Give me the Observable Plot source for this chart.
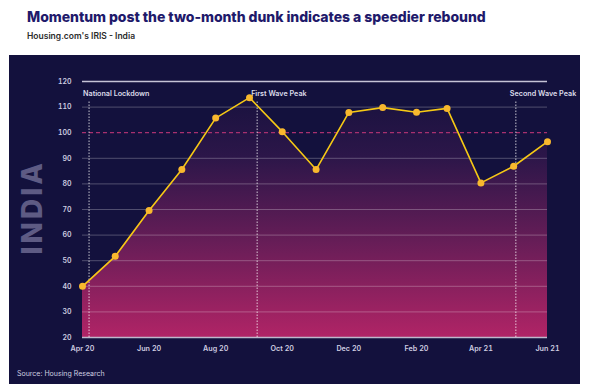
<!DOCTYPE html>
<html><head><meta charset="utf-8">
<script src="https://cdn.jsdelivr.net/npm/d3@7"></script>
<script src="https://cdn.jsdelivr.net/npm/@observablehq/plot@0.6"></script>
<style>
body{margin:0;background:#fff;font-family:Inter,"Open Sans",sans-serif;}
#wrap{position:relative;width:592px;height:390px;overflow:hidden;}
h1{position:absolute;left:27px;top:8px;margin:0;font-size:14px;font-weight:800;color:#1f1a6b;white-space:nowrap;letter-spacing:-0.05px;}
.sub{position:absolute;left:27px;top:31px;font-size:8.5px;font-weight:600;color:#2b2b2b;white-space:nowrap;}
#panel{position:absolute;left:9px;top:55px;width:571px;height:329px;background:#13113d;}
.src{position:absolute;left:8px;bottom:6px;font-size:7px;color:#cfcfe0;white-space:nowrap;}
.india text{letter-spacing:3px;}
</style></head>
<body>
<div id="wrap">
  <h1>Momentum post the two-month dunk indicates a speedier rebound</h1>
  <div class="sub">Housing.com's IRIS - India</div>
  <div id="panel"><div class="src">Source: Housing Research</div></div>
</div>
<script>
const months = ["2020-04-01","2020-05-01","2020-06-01","2020-07-01","2020-08-01","2020-09-01","2020-10-01","2020-11-01","2020-12-01","2021-01-01","2021-02-01","2021-03-01","2021-04-01","2021-05-01","2021-06-01"];
const values = [40, 51.7, 69.6, 85.6, 105.7, 113.7, 100.4, 85.6, 107.9, 109.8, 108, 109.5, 80.4, 86.9, 96.5];
const tickDates = ["2020-04-01","2020-06-01","2020-08-01","2020-10-01","2020-12-01","2021-02-01","2021-04-01","2021-06-01"];
const tickLabels = ["Apr 20","Jun 20","Aug 20","Oct 20","Dec 20","Feb 20","Apr 21","Jun 21"];
const yTicks = [20,30,40,50,60,70,80,90,100,110,120];
const eventDates = ["2020-04-07","2020-09-08","2021-05-03"];
const eventLabels = ["National Lockdown","First Wave Peak","Second Wave Peak"];
const baseline = 20;
const reference = 100;
const eventTop = 112;

const data = months.map((m,i)=>({date:new Date(m), value:values[i]}));
const events = eventDates.map((d,i)=>({date:new Date(d), label:eventLabels[i]}));
const tickD = tickDates.map(d=>new Date(d));
const labelMap = new Map(tickD.map((d,i)=>[+d, tickLabels[i]]));
const gridVals = yTicks.filter(v => v!==baseline && v!==reference && v!==d3.max(yTicks));

const gradient = () => {
  const defs = d3.create("svg:defs");
  const g = defs.append("linearGradient").attr("id","areaGrad").attr("x1",0).attr("y1",0).attr("x2",0).attr("y2",1);
  [[0,"#19123f"],[0.25,"#2c1649"],[0.6,"#661d57"],[1,"#b02466"]].forEach(([o,c])=>g.append("stop").attr("offset",o).attr("stop-color",c));
  return defs.node();
};

const chart = Plot.plot({
  width: 571, height: 329,
  marginLeft: 73, marginRight: 33, marginTop: 26, marginBottom: 47,
  style: {background: "#13113d", fontFamily: "Inter, 'Open Sans', sans-serif"},
  x: {type: "utc", domain: [data[0].date, data[data.length-1].date]},
  y: {domain: [d3.min(yTicks), d3.max(yTicks)]},
  marks: [
    gradient,
    Plot.text(["INDIA"], {frameAnchor: "left", rotate: -90, dx: -49, dy: 45, fontSize: 28, fontWeight: 800, fill: "#5e5b84", className: "india"}),
    Plot.areaY(data, {x: "date", y1: baseline, y2: "value", fill: "url(#areaGrad)"}),
    Plot.ruleY(gridVals, {stroke: "#ffffff", strokeOpacity: 0.26}),
    Plot.ruleY([d3.max(yTicks)], {stroke: "#c5c3d6", strokeWidth: 1.5}),
    Plot.ruleY([baseline], {stroke: "#bdb8cc", strokeWidth: 1.5}),
    Plot.ruleY([reference], {stroke: "#a8306f", strokeWidth: 1.3, strokeDasharray: "4,3"}),
    Plot.ruleX(events, {x: "date", y1: baseline, y2: eventTop, stroke: "#ffffff", strokeOpacity: 0.75, strokeDasharray: "1.5,1.5"}),
    Plot.text(events, {x: "date", frameAnchor: "top", dy: 9, text: "label", textAnchor: "start", dx: -6, fontSize: 7.2, fontWeight: 600, fill: "#dcdcea"}),
    Plot.axisY(yTicks, {tickSize: 0, tickPadding: 11, fontSize: 7, fontWeight: 600, color: "#cfcde0", label: null}),
    Plot.axisX(tickD, {tickSize: 0, tickPadding: 8, fontSize: 7.2, fontWeight: 600, color: "#cfcde0", label: null, tickFormat: d => labelMap.get(+d)}),
    Plot.line(data, {x: "date", y: "value", stroke: "#f6c915", strokeWidth: 1.6}),
    Plot.dot(data, {x: "date", y: "value", r: 3.5, fill: "#f8b82e"})
  ]
});
document.getElementById("panel").prepend(chart);
</script>
</body></html>
